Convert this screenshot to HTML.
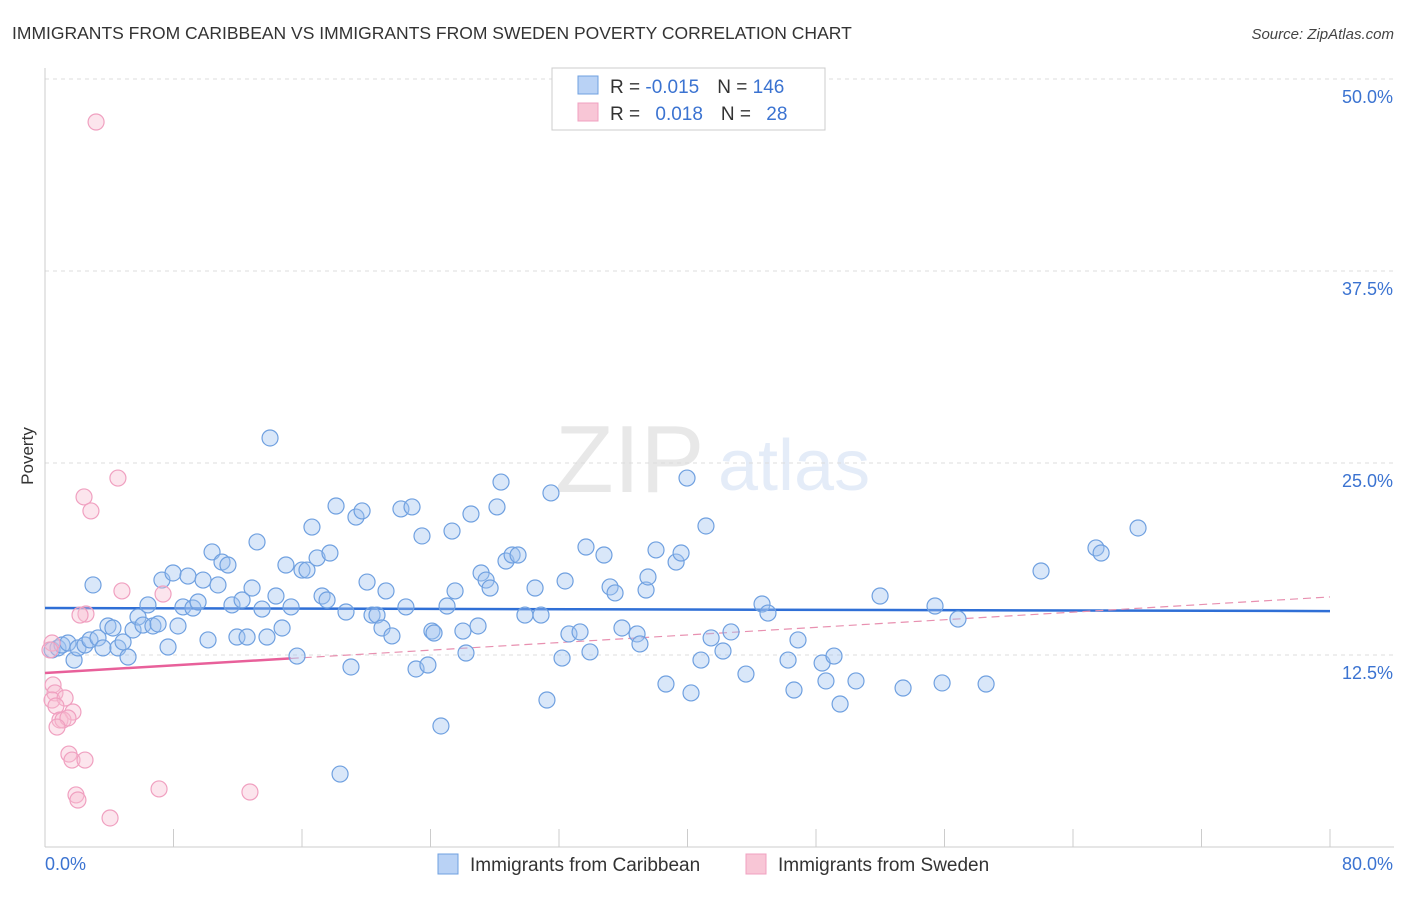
<!DOCTYPE html>
<html><head><meta charset="utf-8"><style>
body{margin:0;background:#fff;font-family:"Liberation Sans",sans-serif;}
svg text{font-family:"Liberation Sans",sans-serif;}
</style></head><body>
<svg id="chart" width="1406" height="892" viewBox="0 0 1406 892" xmlns="http://www.w3.org/2000/svg">
<text x="12" y="39" font-size="17.5" fill="#333">IMMIGRANTS FROM CARIBBEAN VS IMMIGRANTS FROM SWEDEN POVERTY CORRELATION CHART</text>
<text x="1394" y="39" font-size="15" fill="#444" font-style="italic" text-anchor="end">Source: ZipAtlas.com</text>
<g opacity="0.13">
<text x="555" y="492" font-size="96" font-family="Liberation Serif" fill="#555">ZIP</text>
<text x="718" y="490" font-size="72" fill="#3b73d1">atlas</text>
</g>
<g id="grid"></g>
<g id="axes"></g>
<g id="trends"></g>
<g id="pts"></g>
<text transform="translate(33,456) rotate(-90)" font-size="17" fill="#333" text-anchor="middle">Poverty</text>
<g>
<rect x="552" y="68" width="273" height="62" fill="#fff" stroke="#ccc"/>
<rect x="578" y="76" width="20" height="18" fill="#b9d2f5" stroke="#6fa0e0"/>
<rect x="578" y="103" width="20" height="18" fill="#f8c6d6" stroke="#f0a0c0"/>
<text x="610" y="93" font-size="19" fill="#333">R = <tspan fill="#3b73d1">-0.015</tspan><tspan dx="18">N = </tspan><tspan fill="#3b73d1">146</tspan></text>
<text x="610" y="120" font-size="19" fill="#333">R = <tspan fill="#3b73d1" dx="10">0.018</tspan><tspan dx="18">N = </tspan><tspan fill="#3b73d1" dx="10">28</tspan></text>
</g>
<g>
<rect x="438" y="854" width="20" height="20" fill="#b9d2f5" stroke="#6fa0e0"/>
<text x="470" y="871" font-size="19" fill="#333">Immigrants from Caribbean</text>
<rect x="746" y="854" width="20" height="20" fill="#f8c6d6" stroke="#f0a0c0"/>
<text x="778" y="871" font-size="19" fill="#333">Immigrants from Sweden</text>
</g>
</svg>
<script>
const yTicks=[12.5,25.0,37.5,50.0];
const yTickLabels=["12.5%","25.0%","37.5%","50.0%"];
const xTicks=[0,8,16,24,32,40,48,56,64,72,80];
const xEndLabels=["0.0%","80.0%"];
const blueX=[0.44,0.81,1.06,1.43,1.81,2.05,2.49,2.80,2.99,3.30,3.61,3.92,4.23,4.54,4.86,5.17,5.48,5.79,6.10,6.41,6.72,7.04,7.28,7.66,7.97,8.28,8.59,8.90,9.21,9.53,9.84,10.15,10.40,10.77,11.02,11.39,11.64,11.95,12.27,12.58,12.89,13.20,13.51,13.82,14.01,14.38,14.76,15.00,15.32,15.69,16.00,16.31,16.62,16.94,17.25,17.56,17.74,18.12,18.37,18.74,19.05,19.36,19.74,20.05,20.36,20.67,20.98,21.23,21.60,22.16,22.47,22.85,23.10,23.47,23.84,24.09,24.22,24.65,25.03,25.34,25.53,26.02,26.21,26.52,26.96,27.15,27.46,27.71,28.14,28.39,28.70,29.08,29.45,29.88,30.51,30.88,31.25,31.50,32.19,32.38,32.62,33.31,33.68,33.93,34.80,35.18,35.49,35.92,36.86,37.04,37.42,37.54,38.04,38.66,39.29,39.60,39.97,40.22,40.84,41.15,41.47,42.21,42.71,43.64,44.64,45.01,46.26,46.63,46.88,48.38,48.62,49.12,49.50,50.49,51.99,53.42,55.41,55.85,56.84,58.59,62.01,65.43,65.75,68.05];
const blueY=[12.83,12.96,13.15,13.28,12.17,12.96,13.15,13.48,17.06,13.61,12.96,14.39,14.26,12.96,13.35,12.37,14.13,14.97,14.45,15.76,14.39,14.52,17.38,13.02,17.84,14.39,15.63,17.64,15.56,15.95,17.38,13.48,19.21,17.06,18.55,18.36,15.76,13.67,16.08,13.67,16.86,19.86,15.49,13.67,26.63,16.34,14.26,18.36,15.63,12.43,18.03,18.03,20.83,18.82,16.34,16.08,19.14,22.20,4.75,15.30,11.72,21.48,21.88,17.25,15.10,15.10,14.26,16.67,13.74,22.01,15.63,22.14,11.59,20.25,11.85,14.06,13.93,7.88,15.69,20.57,16.67,14.06,12.63,21.68,14.39,17.84,17.38,16.86,22.14,23.76,18.62,19.01,19.01,15.10,16.86,15.10,9.57,23.05,12.30,17.32,13.87,14.00,19.53,12.70,19.01,16.93,16.54,14.26,13.87,13.22,16.73,17.58,19.34,10.61,18.55,19.14,24.02,10.03,12.17,20.90,13.61,12.76,14.00,11.26,15.82,15.23,12.17,10.22,13.48,11.98,10.81,12.43,9.31,10.81,16.34,10.35,15.69,10.68,14.84,10.61,17.97,19.47,19.14,20.77];
const pinkX=[3.18,4.54,2.43,2.86,4.79,7.35,2.55,2.18,0.44,0.31,0.50,0.62,0.44,1.25,0.68,1.74,0.93,1.12,1.43,0.75,1.49,1.68,2.49,1.93,2.05,4.05,7.10,12.76];
const pinkY=[47.20,24.02,22.79,21.88,16.67,16.47,15.17,15.10,13.28,12.83,10.55,10.03,9.57,9.70,9.18,8.79,8.27,8.27,8.40,7.81,6.05,5.66,5.66,3.39,3.06,1.89,3.78,3.58];
const blueTrend=[15.56,15.36]; // value at x=0 and x=80
const pinkTrend=[11.33,16.28]; // value at x=0 and x=80
const pinkSolidEnd=15.3;
const NS="http://www.w3.org/2000/svg";
const X0=45,X1=1330,YB=847,YT=79;
function sx(v){return X0+(v/80)*(X1-X0);}
function sy(v){return YB-(v/50)*(YB-YT);}
function mk(tag,attrs,parent){const e=document.createElementNS(NS,tag);for(const k in attrs)e.setAttribute(k,attrs[k]);parent.appendChild(e);return e;}
const grid=document.getElementById('grid'),axes=document.getElementById('axes'),trends=document.getElementById('trends'),pts=document.getElementById('pts');
yTicks.forEach((t,i)=>{
 const l=mk('line',{x1:X0,x2:1394,y1:sy(t),y2:sy(t),stroke:'#ddd','stroke-dasharray':'4,4'},grid);
 
 
 const tx=mk('text',{x:1393,y:sy(t)+24,'font-size':18,fill:'#3b73d1','text-anchor':'end'},axes);
 tx.textContent=yTickLabels[i];
 
 
});
const ya=mk('line',{x1:X0,x2:X0,y1:68,y2:YB,stroke:'#ccc'},axes);


const xa=mk('line',{x1:X0,x2:1394,y1:YB,y2:YB,stroke:'#ccc'},axes);


xTicks.forEach(t=>{
 const l=mk('line',{x1:sx(t),x2:sx(t),y1:YB,y2:829,stroke:'#ccc'},axes);
 
 
});
const xl0=mk('text',{x:45,y:870,'font-size':18,fill:'#3b73d1'},axes);xl0.textContent=xEndLabels[0];


const xl1=mk('text',{x:1393,y:870,'font-size':18,fill:'#3b73d1','text-anchor':'end'},axes);xl1.textContent=xEndLabels[1];


function drawPts(xs,ys,fill,stroke,name){
 xs.forEach((x,i)=>{const c=mk('circle',{cx:sx(x),cy:sy(ys[i]),r:8,fill:fill,stroke:stroke,'stroke-width':1.2},pts);
 
 });
}
drawPts(blueX,blueY,'rgba(160,196,240,0.4)','#6fa0e0','caribbean-point');
drawPts(pinkX,pinkY,'rgba(248,190,210,0.4)','#f0a0c0','sweden-point');
function trendAt(tr,x){return tr[0]+(tr[1]-tr[0])*x/80;}
const bt=mk('line',{x1:sx(0),x2:sx(80),y1:sy(blueTrend[0]),y2:sy(blueTrend[1]),stroke:'#2f6fd6','stroke-width':2.5},trends);


const pd=mk('line',{x1:sx(pinkSolidEnd),x2:sx(80),y1:sy(trendAt(pinkTrend,pinkSolidEnd)),y2:sy(pinkTrend[1]),stroke:'#e890b0','stroke-width':1.2,'stroke-dasharray':'8,5'},trends);


const ps=mk('line',{x1:sx(0),x2:sx(pinkSolidEnd),y1:sy(pinkTrend[0]),y2:sy(trendAt(pinkTrend,pinkSolidEnd)),stroke:'#e8609a','stroke-width':2.5},trends);


</script>
</body></html>
